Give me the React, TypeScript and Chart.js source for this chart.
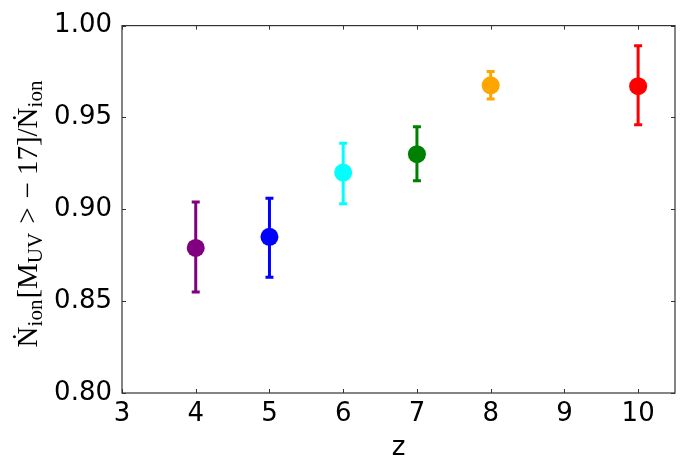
import { useEffect, useRef } from "react";
import { Chart, registerables } from "chart.js";

Chart.register(...registerables);

const redshifts = [4, 5, 6, 7, 8, 10];
const fractions = [0.879, 0.885, 0.92, 0.93, 0.9675, 0.967];
const errLow = [0.855, 0.863, 0.903, 0.9155, 0.96, 0.946];
const errHigh = [0.904, 0.906, 0.936, 0.945, 0.975, 0.989];
const pointColors = ["#800080", "#0000ff", "#00ffff", "#008000", "#ffa500", "#ff0000"];
const xTicks = [3, 4, 5, 6, 7, 8, 9, 10];
const yTicks = [0.8, 0.85, 0.9, 0.95, 1.0];
const xRange = [3, 10.5];
const yRange = [0.8, 1.0];
const xTitle = "z";

const W = 687;
const H = 472;

const errorBarPlugin = {
  id: "errorBars",
  beforeDatasetsDraw(chart: any) {
    const ctx = chart.ctx;
    const xs = chart.scales.x;
    const ys = chart.scales.y;
    ctx.save();
    redshifts.forEach((z, i) => {
      const px = xs.getPixelForValue(z);
      const lo = ys.getPixelForValue(errLow[i]);
      const hi = ys.getPixelForValue(errHigh[i]);
      ctx.strokeStyle = pointColors[i];
      ctx.lineWidth = 3;
      ctx.lineCap = "butt";
      ctx.beginPath();
      ctx.moveTo(px, lo);
      ctx.lineTo(px, hi);
      ctx.stroke();
      ctx.lineWidth = 3;
      ctx.beginPath();
      ctx.moveTo(px - 4, lo);
      ctx.lineTo(px + 4, lo);
      ctx.moveTo(px - 4, hi);
      ctx.lineTo(px + 4, hi);
      ctx.stroke();
    });
    ctx.restore();
  },
  afterDraw(chart: any) {
    const ctx = chart.ctx;
    const a = chart.chartArea;
    const xs = chart.scales.x;
    const ys = chart.scales.y;
    ctx.save();
    // frame
    ctx.strokeStyle = "#333";
    ctx.lineWidth = 1.2;
    ctx.strokeRect(a.left, a.top, a.right - a.left, a.bottom - a.top);
    // inward ticks, mirrored
    const tl = 4;
    ctx.beginPath();
    xTicks.forEach((v) => {
      const px = Math.round(xs.getPixelForValue(v)) + 0.5;
      ctx.moveTo(px, a.bottom);
      ctx.lineTo(px, a.bottom - tl);
      ctx.moveTo(px, a.top);
      ctx.lineTo(px, a.top + tl);
    });
    yTicks.forEach((v) => {
      const py = Math.round(ys.getPixelForValue(v)) + 0.5;
      ctx.moveTo(a.left, py);
      ctx.lineTo(a.left + tl, py);
      ctx.moveTo(a.right, py);
      ctx.lineTo(a.right - tl, py);
    });
    ctx.lineWidth = 1;
    ctx.stroke();

    // x title
    ctx.fillStyle = "#000";
    ctx.font = "26px 'DejaVu Sans'";
    ctx.textAlign = "center";
    ctx.textBaseline = "alphabetic";
    ctx.fillText(xTitle, (a.left + a.right) / 2, 455);

    // y title with subscripts
    const mainFont = "29px 'Liberation Serif', 'DejaVu Serif', serif";
    const subFont = "21px 'Liberation Serif', 'DejaVu Serif', serif";
    const segs = [
      { t: "Ṅ", f: mainFont, dy: 0, pl: 0, pr: 0 },
      { t: "ion", f: subFont, dy: 5, pl: 0, pr: 1 },
      { t: "[M", f: mainFont, dy: 0, pl: 0, pr: 0 },
      { t: "UV", f: subFont, dy: 5, pl: 0, pr: 0 },
      { t: ">", f: mainFont, dy: 0, pl: 9, pr: 9 },
      { t: "−", f: mainFont, dy: 0, pl: 0, pr: 7 },
      { t: "17]/Ṅ", f: mainFont, dy: 0, pl: 0, pr: 0 },
      { t: "ion", f: subFont, dy: 5, pl: 0, pr: 0 },
    ];
    let total = 0;
    const widths = segs.map((s) => {
      ctx.font = s.f;
      const w = ctx.measureText(s.t).width;
      total += s.pl + w + s.pr;
      return w;
    });
    const cy = 214;
    ctx.translate(37, cy + total / 2);
    ctx.rotate(-Math.PI / 2);
    ctx.textAlign = "left";
    ctx.textBaseline = "alphabetic";
    let x = 0;
    segs.forEach((s, i) => {
      ctx.font = s.f;
      x += s.pl;
      ctx.fillText(s.t, x, s.dy);
      x += widths[i] + s.pr;
    });
    ctx.restore();
  },
};

export default function App() {
  const ref = useRef<HTMLCanvasElement | null>(null);
  useEffect(() => {
    if (!ref.current) return;
    const chart = new Chart(ref.current, {
      type: "scatter",
      data: {
        datasets: [
          {
            data: redshifts.map((z, i) => ({ x: z, y: fractions[i] })),
            pointRadius: 9,
            pointHoverRadius: 9,
            pointBackgroundColor: pointColors,
            pointBorderColor: pointColors,
            pointBorderWidth: 0,
          },
        ],
      },
      options: {
        responsive: false,
        animation: false,
        events: [],
        layout: { padding: { top: 25, right: 12, left: 0, bottom: 0 }, autoPadding: false },
        plugins: { legend: { display: false }, tooltip: { enabled: false }, title: { display: false } },
        scales: {
          x: {
            type: "linear",
            min: xRange[0],
            max: xRange[1],
            grid: { display: false, drawTicks: false },
            border: { display: false },
            afterBuildTicks: (s: any) => {
              s.ticks = xTicks.map((v) => ({ value: v }));
            },
            afterFit: (s: any) => {
              s.height = 79;
            },
            ticks: {
              padding: 6,
              color: "#000",
              font: { family: "'DejaVu Sans'", size: 26 },
              callback: (v: any) => String(v),
            },
          },
          y: {
            type: "linear",
            min: yRange[0],
            max: yRange[1],
            grid: { display: false, drawTicks: false },
            border: { display: false },
            afterBuildTicks: (s: any) => {
              s.ticks = yTicks.map((v) => ({ value: v }));
            },
            afterFit: (s: any) => {
              s.width = 122;
            },
            ticks: {
              padding: 10,
              color: "#000",
              font: { family: "'DejaVu Sans'", size: 26 },
              callback: (v: any) => Number(v).toFixed(2),
            },
          },
        },
      },
      plugins: [errorBarPlugin],
    });
    return () => chart.destroy();
  }, []);
  return (
    <div style={{ position: "fixed", left: 0, top: 0, width: W, height: H, background: "#fff" }}>
      <canvas ref={ref} width={W} height={H} style={{ width: W, height: H, display: "block" }} />
    </div>
  );
}
